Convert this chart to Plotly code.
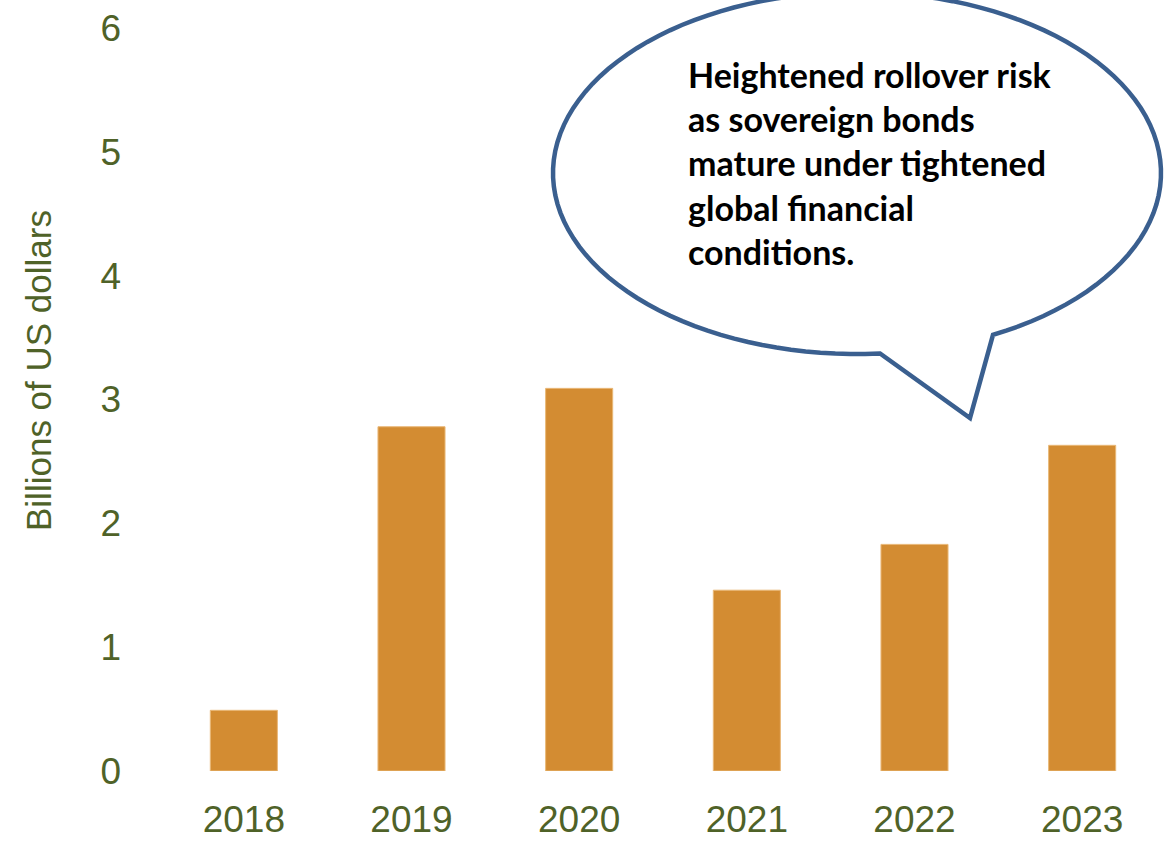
import math
import plotly.graph_objects as go

# Chart data
years = ["2018", "2019", "2020", "2021", "2022", "2023"]
amounts = [0.49, 2.78, 3.09, 1.46, 1.83, 2.63]  # billions of US dollars
y_ticks = [0, 1, 2, 3, 4, 5, 6]
y_title = "Billions of US dollars"
callout_lines = [
    "Heightened rollover risk",
    "as sovereign bonds",
    "mature under tightened",
    "global financial",
    "conditions.",
]

W, H = 1166, 842
M_L, M_R, M_T, M_B = 160, 0, 28, 71
TEXT_GREEN = "#4F6228"
BAR_ORANGE = "#D38C32"
OUTLINE_BLUE = "#3A5F8F"
AXIS_FONT = "Liberation Sans, Arial, sans-serif"


def to_paper(px, py):
    """Convert page pixel position to paper coordinates of the plot area."""
    pw = W - M_L - M_R
    ph = H - M_T - M_B
    return (px - M_L) / pw, (H - M_B - py) / ph


# Speech-bubble outline: ellipse arc plus a pointed tail
cx, cy, rx, ry = 857, 173, 304, 181
t_start, t_end = 1.495, 2 * math.pi + 1.107
n = 120
pts = []
for i in range(n + 1):
    t = t_start + (t_end - t_start) * i / n
    pts.append((cx + rx * math.cos(t), cy + ry * math.sin(t)))
pts.append((970, 418))  # tail tip
path_pts = [to_paper(x, y) for x, y in pts]
bubble_path = "M " + " L ".join(f"{x:.5f},{y:.5f}" for x, y in path_pts) + " Z"

fig = go.Figure(
    go.Bar(
        x=years,
        y=amounts,
        marker=dict(color=BAR_ORANGE, line=dict(color="#E9B877", width=1)),
        hoverinfo="x+y",
    )
)

fig.add_shape(
    type="path",
    path=bubble_path,
    xref="paper",
    yref="paper",
    line=dict(color=OUTLINE_BLUE, width=4.5),
    fillcolor="white",
    layer="above",
)

tx, ty = to_paper(686, 52)
fig.add_annotation(
    x=tx,
    y=ty,
    xref="paper",
    yref="paper",
    xanchor="left",
    yanchor="top",
    align="left",
    showarrow=False,
    text="<br>".join(f"<b>{line}</b>" for line in callout_lines),
    font=dict(family="Lato, Carlito, sans-serif", size=34, color="black"),
)

# Rotated y-axis title, placed a little above the plot's vertical centre
ax_x, ax_y = to_paper(38, 371)
fig.add_annotation(
    x=ax_x,
    y=ax_y,
    xref="paper",
    yref="paper",
    xanchor="center",
    yanchor="middle",
    textangle=-90,
    showarrow=False,
    text=y_title,
    font=dict(family=AXIS_FONT, size=35, color=TEXT_GREEN),
)

fig.update_layout(
    width=W,
    height=H,
    margin=dict(l=M_L, r=M_R, t=M_T, b=M_B, pad=0),
    paper_bgcolor="white",
    plot_bgcolor="white",
    showlegend=False,
    bargap=0.6,
    font=dict(family=AXIS_FONT, color=TEXT_GREEN, size=37),
    xaxis=dict(
        type="category",
        range=[-0.5, 5.5],
        automargin=False,
        showgrid=False,
        showline=False,
        zeroline=False,
        ticks="",
        tickfont=dict(family=AXIS_FONT, size=37, color=TEXT_GREEN),
        ticklabelstandoff=23,
    ),
    yaxis=dict(
        range=[0, 6],
        tickvals=y_ticks,
        automargin=False,
        showgrid=False,
        showline=False,
        zeroline=False,
        ticks="",
        tickfont=dict(family=AXIS_FONT, size=37, color=TEXT_GREEN),
        ticklabelstandoff=38,
    ),
)

fig.write_html("out.html")
